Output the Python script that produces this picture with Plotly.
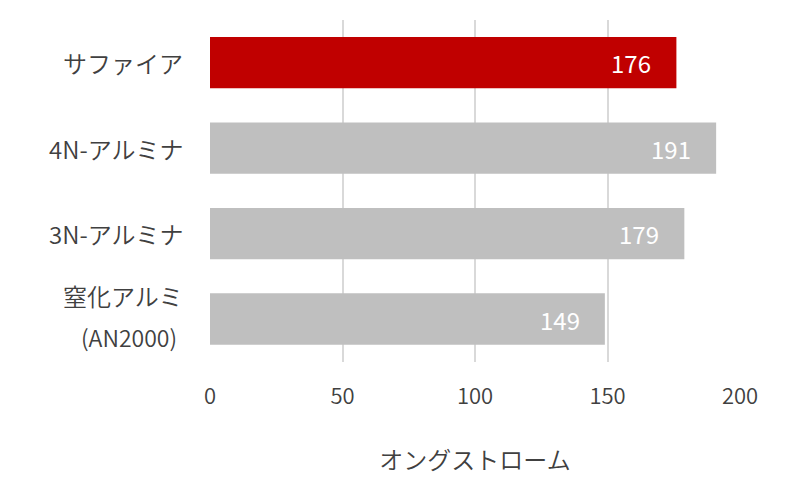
import plotly.graph_objects as go

categories = ["サファイア", "4N-アルミナ", "3N-アルミナ", "窒化アルミ<br>(AN2000)"]
values = [176, 191, 179, 149]
colors = ["#C00000", "#BFBFBF", "#BFBFBF", "#BFBFBF"]
x_ticks = [0, 50, 100, 150, 200]

FONT = "Noto Sans CJK JP"
TXT = "#404040"
LINE_GAP = 41
W = 350

fig = go.Figure()
fig.add_trace(go.Bar(
    y=categories, x=values, orientation="h",
    marker=dict(color=colors, line=dict(width=0)),
    hoverinfo="skip",
))
# value labels inside bar ends
for c, v in zip(categories, values):
    fig.add_annotation(x=v, y=c, text=str(v), xanchor="right", xshift=-23,
                       showarrow=False, font=dict(family=FONT, size=24, color="white", weight=400))
# category labels (separate lines to reproduce the loose line spacing)
for c in categories:
    lines = c.split("<br>")
    n = len(lines)
    for i, ln in enumerate(lines):
        ascii_only = all(ord(ch) < 128 for ch in ln)
        fig.add_annotation(x=0, xref="paper", y=c, text=ln, xanchor="right",
                           xshift=-25 - (6 if i > 0 else 0),
                           yshift=((n - 1) / 2 - i) * LINE_GAP + (3 if n > 1 else 0),
                           showarrow=False,
                           font=dict(family=FONT, size=23 if ascii_only else 24, color=TXT, weight=W))

fig.update_layout(
    width=792, height=475,
    margin=dict(l=202, r=60, t=12, b=121),
    paper_bgcolor="white", plot_bgcolor="white",
    bargap=0.4, showlegend=False,
    font=dict(family=FONT, color=TXT, size=20, weight=W),
)
fig.update_xaxes(
    range=[0, 200], tickvals=x_ticks, showgrid=True, gridcolor="#D9D9D9", gridwidth=1.5,
    zeroline=False, showline=False, ticks="", ticklabelstandoff=19, automargin=False,
    tickfont=dict(size=22, color=TXT, weight=W),
    title=dict(text="オングストローム", font=dict(size=24, color=TXT, weight=W), standoff=43),
)
fig.update_yaxes(
    autorange="reversed", showgrid=False, zeroline=False, showline=False, ticks="",
    showticklabels=False, automargin=False,
)

fig.write_html("out.html")
